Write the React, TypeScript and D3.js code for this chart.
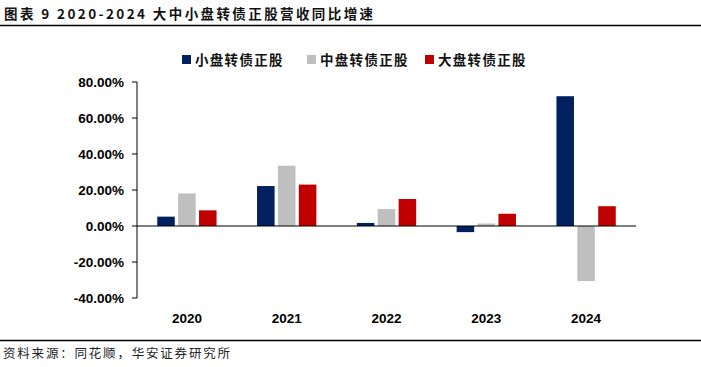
import * as d3 from "d3";

const years = ["2020", "2021", "2022", "2023", "2024"];
const seriesNames = ["小盘转债正股", "中盘转债正股", "大盘转债正股"];
const small = [5.2, 22.2, 1.7, -3.4, 72.1];
const mid = [18.1, 33.5, 9.4, 1.4, -30.6];
const large = [8.7, 23.0, 15.0, 6.8, 11.0];
const colors = ["#002060", "#bfbfbf", "#c00000"];
const yTicks = [80, 60, 40, 20, 0, -20, -40];

const width = 701;
const height = 367;
const cjk = "'Noto Sans CJK SC', sans-serif";
const latin = "'Liberation Sans', Arial, sans-serif";

export default function App() {
  const x = d3.scaleBand(years, [137, 636]);
  const inner = d3.scaleBand([0, 1, 2], [0, 66]).padding(0.16);
  const y = d3.scaleLinear([-40, 80], [298, 82]);
  const series = [small, mid, large];
  const groupOffset = (x.bandwidth() - 66) / 2;

  return (
    <svg
      width={width}
      height={height}
      style={{ position: "absolute", left: 0, top: 0, background: "#fff" }}
    >
      <text
        x={4}
        y={19}
        fontFamily={cjk}
        fontWeight="bold"
        fontSize={13.5}
        letterSpacing={2.4}
        fill="#111"
        style={{ whiteSpace: "pre" }}
      >
        图表 9 2020-2024 大中小盘转债正股营收同比增速
      </text>
      <line x1={0} x2={701} y1={25.5} y2={25.5} stroke="#000" strokeWidth={1.3} />

      {seriesNames.map((name, i) => {
        const lx = [182, 307, 425][i];
        return (
          <g key={name} transform={`translate(${lx},60)`}>
            <rect x={0} y={-5} width={9} height={9} fill={colors[i]} />
            <text
              x={13}
              y={5}
              fontFamily={cjk}
              fontWeight="bold"
              fontSize={13.5}
              letterSpacing={1.3}
              fill="#111"
            >
              {name}
            </text>
          </g>
        );
      })}

      {yTicks.map((t) => (
        <g key={t}>
          <line x1={132} x2={137} y1={y(t)} y2={y(t)} stroke="#000" />
          <text
            x={124}
            y={y(t)}
            dy="0.35em"
            textAnchor="end"
            fontFamily={latin}
            fontWeight="bold"
            fontSize={13.5}
            fill="#000"
          >
            {t.toFixed(2)}%
          </text>
        </g>
      ))}
      <line x1={137} x2={137} y1={y(80)} y2={y(-40)} stroke="#000" />

      {years.map((yr, i) => (
        <g key={yr} transform={`translate(${(x(yr) ?? 0) + groupOffset},0)`}>
          {series.map((s, k) => (
            <rect
              key={k}
              x={inner(k)}
              y={y(Math.max(0, s[i]))}
              width={inner.bandwidth()}
              height={Math.abs(y(s[i]) - y(0))}
              fill={colors[k]}
            />
          ))}
        </g>
      ))}
      <line x1={137} x2={636} y1={y(0)} y2={y(0)} stroke="#000" strokeWidth={1.2} />

      {years.map((yr) => (
        <text
          key={yr}
          x={(x(yr) ?? 0) + x.bandwidth() / 2}
          y={323}
          textAnchor="middle"
          fontFamily={latin}
          fontWeight="bold"
          fontSize={13.5}
          fill="#000"
        >
          {yr}
        </text>
      ))}

      <line x1={0} x2={701} y1={340.5} y2={340.5} stroke="#000" strokeWidth={1.3} />
      <text x={3} y={358} fontFamily={cjk} fontSize={12.5} letterSpacing={1.8} fill="#222">
        资料来源：同花顺，华安证券研究所
      </text>
    </svg>
  );
}
